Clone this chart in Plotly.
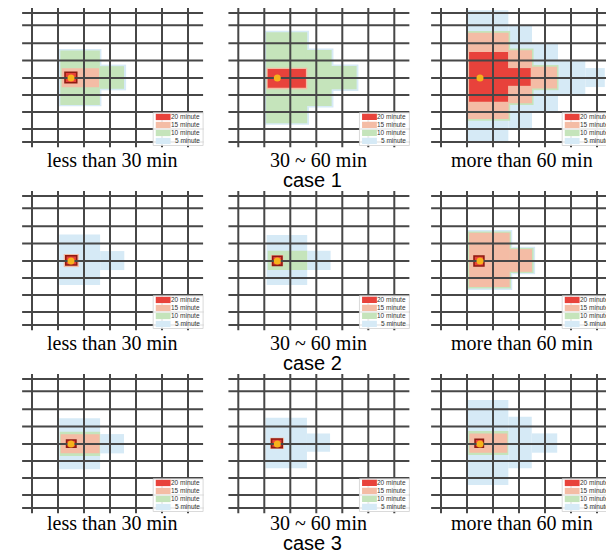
import plotly.graph_objects as go
from plotly.subplots import make_subplots

# The page body has an 8px margin, so the figure is drawn 8px in from the window edge.
OFF = 8
W, H = 614 - OFF, 555 - OFF

# ---------------- data ----------------
ROAD_X = [0, 1, 2, 3, 4, 5, 6]                       # vertical roads (grid units)
ROAD_Y = [-3.74, -3.03, -2.0, -1.0, 0.0, 0.98, 1.95, 2.93, 3.68]  # horizontal roads
ROAD_X_SPAN = [-0.38, 6.58]
ROAD_Y_SPAN = [-4.02, 3.98]

LEVEL_NAMES = ["20 minute", "15 minute", "10 minute", "5 minute"]
LEVEL_KEYS = ["20", "15", "10", "5"]
LEVEL_COLORS = {"20": "#e8423b", "15": "#f4bca5", "10": "#c5e4bb", "5": "#d6eaf6"}

PERIODS = ["less than 30 min", "30 ~ 60 min", "more than 60 min"]
CASES = ["case 1", "case 2", "case 3"]
ORIGIN = [1.5, 0.0]

# reachable areas: rectangles [x0, x1, y0, y1] per travel-time level
case1_lt30 = {
    "5": [[1.03, 2.67, -1.67, 1.62], [2.62, 3.62, -0.77, 0.71]],
    "10": [[1.09, 2.61, -1.58, 1.55], [2.60, 3.54, -0.68, 0.62]],
    "15": [[1.14, 2.58, -0.56, 0.53]],
    "20": [[1.27, 1.72, -0.33, 0.27]],
}
case1_30_60 = {
    "5": [[1.00, 2.72, -2.72, 2.68], [2.65, 3.66, -1.70, 1.70], [3.55, 4.62, -0.78, 0.74]],
    "10": [[1.07, 2.65, -2.63, 2.60], [2.60, 3.59, -1.61, 1.61], [3.50, 4.55, -0.69, 0.65]],
    "15": [[1.09, 2.65, -0.59, 0.65]],
    "20": [[1.13, 2.60, -0.52, 0.56]],
}
case1_gt60 = {
    "5": [[0.99, 2.59, -3.90, 3.70], [2.59, 3.50, -3.05, 2.95], [3.50, 4.50, -2.00, 1.95],
          [4.50, 5.55, -1.03, 0.98], [5.55, 6.30, -0.57, 0.52]],
    "10": [[1.00, 2.66, -2.70, 2.45], [2.60, 3.56, -1.70, 1.55], [3.50, 4.52, -0.75, 0.70]],
    "15": [[1.04, 2.60, -2.60, 2.35], [2.58, 3.50, -1.60, 1.45], [3.48, 4.46, -0.65, 0.60]],
    "20": [[1.08, 2.58, -1.50, 1.36], [2.56, 3.45, -0.57, 0.45]],
}
case2_lt30 = {
    "5": [[1.05, 2.62, -1.53, 1.38], [2.62, 3.55, -0.57, 0.52]],
    "10": [],
    "15": [[1.22, 1.80, -0.40, 0.35]],
    "20": [[1.30, 1.72, -0.30, 0.23]],
}
case2_30_60 = {
    "5": [[1.09, 2.65, -1.49, 1.38], [2.65, 3.55, -0.59, 0.52]],
    "10": [[1.13, 2.65, -0.59, 0.52]],
    "15": [[1.26, 1.73, -0.34, 0.29]],
    "20": [[1.32, 1.68, -0.27, 0.25]],
}
case2_gt60 = {
    "5": [[0.99, 2.74, -1.78, 1.67], [2.74, 3.62, -0.82, 0.76]],
    "10": [[1.04, 2.69, -1.70, 1.58], [2.66, 3.56, -0.75, 0.69]],
    "15": [[1.08, 2.64, -1.62, 1.50], [2.62, 3.50, -0.68, 0.62]],
    "20": [[1.27, 1.65, -0.29, 0.29]],
}
case3_lt30 = {
    "5": [[1.05, 2.62, -1.48, 1.45], [2.62, 3.54, -0.57, 0.54]],
    "10": [[1.07, 2.62, -0.71, 0.69]],
    "15": [[1.10, 2.60, -0.56, 0.53]],
    "20": [[1.33, 1.69, -0.23, 0.19]],
}
case3_30_60 = {
    "5": [[1.05, 2.64, -1.51, 1.40], [2.64, 3.53, -0.61, 0.44]],
    "10": [],
    "15": [[1.22, 1.76, -0.36, 0.29]],
    "20": [[1.28, 1.69, -0.29, 0.21]],
}
case3_gt60 = {
    "5": [[0.99, 2.59, -2.53, 2.36], [2.59, 3.49, -1.57, 1.40], [3.49, 4.47, -0.61, 0.50]],
    "10": [[1.05, 2.59, -0.75, 0.63]],
    "15": [[1.09, 2.55, -0.61, 0.50]],
    "20": [[1.31, 1.63, -0.27, 0.19]],
}
PANELS = [
    [case1_lt30, case1_30_60, case1_gt60],
    [case2_lt30, case2_30_60, case2_gt60],
    [case3_lt30, case3_30_60, case3_gt60],
]

# ---------------- layout geometry (window pixels) ----------------
COL_X0 = [32, 238.3, 441]     # pixel of first vertical road per column
ROW_Y0 = [78, 261, 444]       # pixel of origin road per row
CAP_Y = [160, 343, 523]       # pixel centre of the period captions
CASE_Y = [180, 363, 543]      # pixel centre of the "case" labels
PX_X, PX_Y = 26.0, 17.4
PAD_L, PAD_R = 22, 180
PAD_Y = 70


def px(p):
    return (p - OFF) / W


def py(p):
    return 1 - (p - OFF) / H


fig = make_subplots(rows=3, cols=3)

ROAD_COLOR = "#474747"

for r in range(3):
    for c in range(3):
        idx = r * 3 + c + 1
        xa = "x" if idx == 1 else f"x{idx}"
        ya = "y" if idx == 1 else f"y{idx}"
        xl = "xaxis" if idx == 1 else f"xaxis{idx}"
        yl = "yaxis" if idx == 1 else f"yaxis{idx}"
        px_left = max(OFF, COL_X0[c] - PAD_L)
        px_right = min(OFF + W, COL_X0[c] + PAD_R)
        py_top = max(OFF, ROW_Y0[r] - PAD_Y)
        py_bot = ROW_Y0[r] + PAD_Y
        fig.layout[xl].update(domain=[px(px_left), px(px_right)],
                              range=[(px_left - COL_X0[c]) / PX_X, (px_right - COL_X0[c]) / PX_X],
                              visible=False, fixedrange=True)
        fig.layout[yl].update(domain=[py(py_bot), py(py_top)],
                              range=[(py_bot - ROW_Y0[r]) / PX_Y, (py_top - ROW_Y0[r]) / PX_Y],
                              visible=False, fixedrange=True)

        panel = PANELS[r][c]
        # filled areas (5 -> 20 so the inner levels sit on top)
        for key in ["5", "10", "15", "20"]:
            for (x0, x1, y0, y1) in panel[key]:
                small = key == "20" and (x1 - x0) < 0.6
                fig.add_shape(type="rect", xref=xa, yref=ya, x0=x0, x1=x1, y0=y0, y1=y1,
                              fillcolor=LEVEL_COLORS[key],
                              line=dict(color="#8e1b12" if small else LEVEL_COLORS[key],
                                        width=1.6 if small else 0),
                              layer="below")

        # road network
        gx, gy = [], []
        for yv in ROAD_Y:
            gx += [ROAD_X_SPAN[0], ROAD_X_SPAN[1], None]
            gy += [yv, yv, None]
        for xv in ROAD_X:
            gx += [xv, xv, None]
            gy += [ROAD_Y_SPAN[0], ROAD_Y_SPAN[1], None]
        fig.add_trace(go.Scatter(x=gx, y=gy, mode="lines",
                                 line=dict(color=ROAD_COLOR, width=2),
                                 hoverinfo="skip", showlegend=False, cliponaxis=False),
                      row=r + 1, col=c + 1)

        # origin
        fig.add_trace(go.Scatter(x=[ORIGIN[0]], y=[ORIGIN[1]], mode="markers",
                                 marker=dict(color="#f6b21b", size=7, line=dict(width=0)),
                                 hoverinfo="skip", showlegend=False), row=r + 1, col=c + 1)

        # legend box
        fig.add_shape(type="rect", xref=xa, yref=ya, x0=4.66, x1=6.58, y0=2.0, y1=3.88,
                      fillcolor="rgba(255,255,255,0.9)", line=dict(color="#d0d0d0", width=0.8),
                      layer="above")
        for k, (name, key) in enumerate(zip(LEVEL_NAMES, LEVEL_KEYS)):
            yc = 2.24 + 0.46 * k
            fig.add_shape(type="rect", xref=xa, yref=ya, x0=4.76, x1=5.33,
                          y0=yc - 0.18, y1=yc + 0.18,
                          fillcolor=LEVEL_COLORS[key], line=dict(width=0), layer="above")
            fig.add_annotation(x=6.54, y=yc, xref=xa, yref=ya, text=name, showarrow=False,
                               xanchor="right", yanchor="middle",
                               font=dict(family="Liberation Sans", size=6.5, color="#333333"))

        # period caption
        cx = (COL_X0[c] - 10 + min(612, COL_X0[c] + 171)) / 2
        fig.add_annotation(x=px(cx), y=py(CAP_Y[r]), xref="paper", yref="paper",
                           text=PERIODS[c], showarrow=False, xanchor="center", yanchor="middle",
                           font=dict(family="Liberation Serif", size=20, color="black"))
    fig.add_annotation(x=px(312), y=py(CASE_Y[r]), xref="paper", yref="paper",
                       text=CASES[r], showarrow=False, xanchor="center", yanchor="middle",
                       font=dict(family="Liberation Sans", size=20, color="black"))

fig.update_layout(width=W, height=H, margin=dict(l=0, r=0, t=0, b=0),
                  paper_bgcolor="white", plot_bgcolor="white", showlegend=False)

fig.write_html("out.html")
